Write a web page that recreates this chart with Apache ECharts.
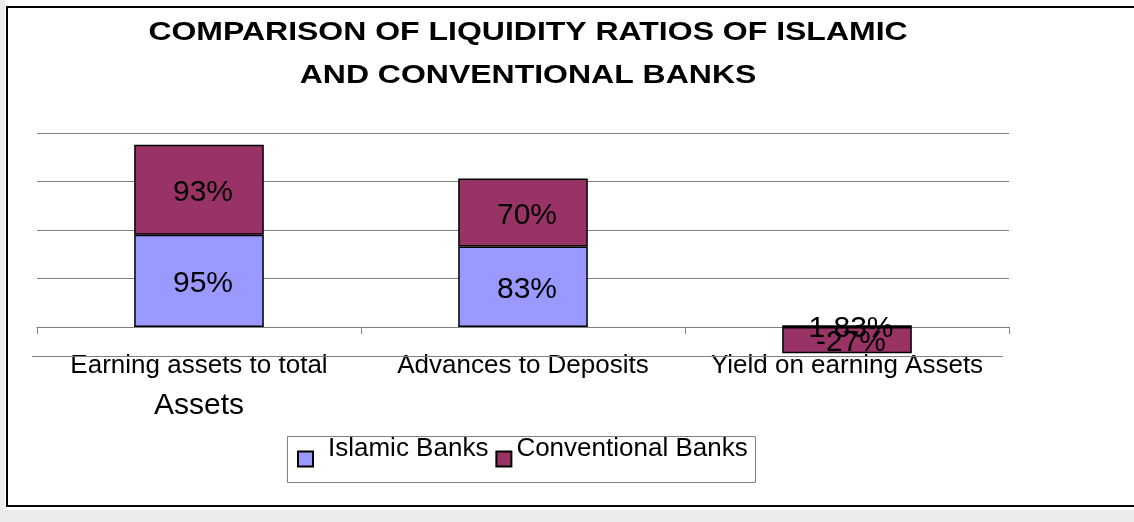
<!DOCTYPE html>
<html>
<head>
<meta charset="utf-8">
<script src="https://cdn.jsdelivr.net/npm/echarts@6/dist/echarts.min.js"></script>
<style>
  html, body { margin: 0; padding: 0; background: #ffffff; }
  #chart { width: 1134px; height: 522px; }
</style>
</head>
<body>
<div id="chart"></div>
<script>
// Liquidity ratios (%) per measure
const categories = ['Earning assets to total Assets', 'Advances to Deposits', 'Yield on earning Assets'];
const islamicBanks = [95, 83, 1.83];
const conventionalBanks = [93, 70, -27];
const seriesNames = ['Islamic Banks', 'Conventional Banks'];
const seriesColors = ['#9999FF', '#993366'];
const titleLines = ['COMPARISON OF LIQUIDITY RATIOS OF ISLAMIC', 'AND CONVENTIONAL BANKS'];
const valueMin = 0;
const valueMax = 200;
const valueStep = 50;

const FONT = '"Liberation Sans", Arial, Helvetica, sans-serif';
const GRID_GREY = '#808080';

// Long category names break before the last word, which is set larger.
function categoryLabel(name) {
  if (name.length > 24) {
    const cut = name.lastIndexOf(' ');
    return '{a|' + name.slice(0, cut) + '}\n{b|' + name.slice(cut + 1) + '}';
  }
  return '{a|' + name + '}';
}

function barSeries(name, values, color) {
  return {
    name: name,
    type: 'bar',
    stack: 'ratios',
    barWidth: '40%',
    clip: false,
    data: values,
    itemStyle: { color: color, borderColor: '#000000', borderWidth: 1.5 },
    label: {
      show: true,
      position: 'inside',
      offset: [4, 3],
      color: '#000000',
      fontFamily: FONT,
      fontSize: 30,
      formatter: p => p.value + '%'
    }
  };
}

const chart = echarts.init(document.getElementById('chart'), null, { renderer: 'canvas' });

chart.setOption({
  animation: false,
  backgroundColor: '#ffffff',
  grid: {
    left: 37,
    right: 125,
    top: 133,
    bottom: 195,
    containLabel: false,
    outerBoundsMode: 'none'
  },
  xAxis: {
    type: 'category',
    data: categories,
    axisLine: { lineStyle: { color: GRID_GREY, width: 1 } },
    axisTick: { show: true, length: 7, lineStyle: { color: GRID_GREY } },
    axisLabel: {
      interval: 0,
      margin: 26,
      color: '#000000',
      fontFamily: FONT,
      formatter: categoryLabel,
      rich: {
        a: { fontFamily: FONT, fontSize: 26, lineHeight: 26, color: '#000000' },
        b: { fontFamily: FONT, fontSize: 30, lineHeight: 54, color: '#000000' }
      }
    }
  },
  yAxis: {
    type: 'value',
    min: valueMin,
    max: valueMax,
    interval: valueStep,
    axisLine: { show: false },
    axisTick: { show: false },
    axisLabel: { show: false },
    splitLine: { show: true, lineStyle: { color: GRID_GREY, width: 1 } }
  },
  legend: {
    data: seriesNames,
    left: 297,
    top: 436,
    padding: 0,
    orient: 'horizontal',
    icon: 'rect',
    itemWidth: 15,
    itemHeight: 15,
    itemGap: 7,
    // names sit higher than the swatches
    formatter: name => (name === seriesNames[0] ? '{t|' : '{u|') + name + '}',
    textStyle: {
      color: '#000000',
      fontFamily: FONT,
      fontSize: 26,
      rich: {
        t: { fontFamily: FONT, fontSize: 26, color: '#000000', padding: [0, 0, 20, 10] },
        u: { fontFamily: FONT, fontSize: 26, color: '#000000', padding: [0, 0, 20, 0] }
      }
    }
  },
  series: [
    barSeries(seriesNames[0], islamicBanks, seriesColors[0]),
    barSeries(seriesNames[1], conventionalBanks, seriesColors[1])
  ],
  graphic: [
    // page margin outside the chart frame
    { type: 'rect', silent: true, z: -10, shape: { x: 0, y: 0, width: 5, height: 522 }, style: { fill: '#ececec' } },
    { type: 'rect', silent: true, z: -10, shape: { x: 0, y: 510, width: 1134, height: 12 }, style: { fill: '#ececec' } },
    // chart frame (open on the right)
    { type: 'polyline', silent: true, z: 10,
      shape: { points: [[1134, 7], [7, 7], [7, 506], [1134, 506]] },
      style: { stroke: '#000000', lineWidth: 2, fill: null } },
    // rule under the plot area
    { type: 'line', silent: true, z: 1,
      shape: { x1: 32, y1: 356.5, x2: 1003, y2: 356.5 },
      style: { stroke: GRID_GREY, lineWidth: 1 } },
    // legend box
    { type: 'rect', silent: true, z: 1,
      shape: { x: 287.5, y: 436.5, width: 468, height: 46 },
      style: { stroke: GRID_GREY, lineWidth: 1, fill: null } },
    // title
    { type: 'text', silent: true, z: 10,
      x: 528, y: 11, scaleX: 1.23,
      style: {
        text: titleLines.join('\n'),
        fontFamily: FONT,
        fontSize: 26,
        fontWeight: 'bold',
        lineHeight: 43,
        align: 'center',
        verticalAlign: 'top',
        fill: '#000000'
      } }
  ]
});
</script>
</body>
</html>
